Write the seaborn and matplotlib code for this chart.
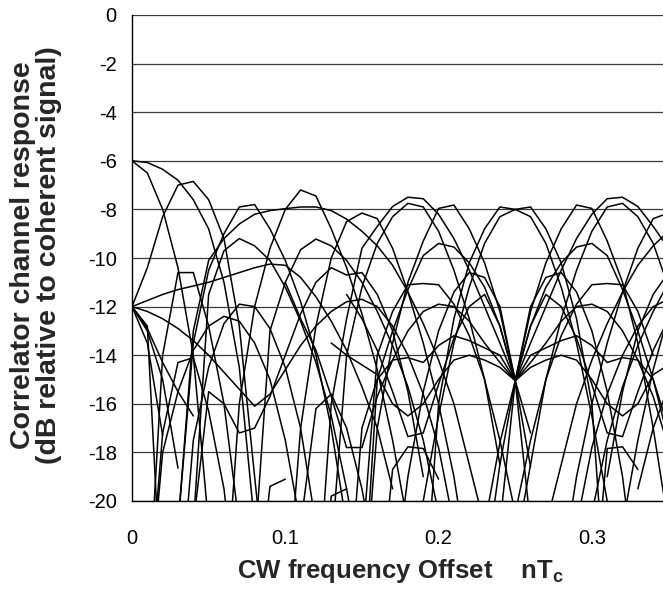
import matplotlib
matplotlib.use("Agg")
import matplotlib.pyplot as plt
import numpy as np
import pandas as pd
import seaborn as sns

N = None
freq = [0.00, 0.01, 0.02, 0.03, 0.04, 0.05, 0.06, 0.07, 0.08, 0.09,
        0.10, 0.11, 0.12, 0.13, 0.14, 0.15, 0.16, 0.17, 0.18, 0.19,
        0.20, 0.21, 0.22, 0.23, 0.24, 0.25, 0.26, 0.27, 0.28, 0.29,
        0.30, 0.31, 0.32, 0.33, 0.34, 0.35]

ch01 = [-6.0, -6.07, -6.35, -6.8, -7.6, -8.8, -11.0, -14.5, -21]
ch02 = [-6.0, -6.5, -8.0, -10.4, -14.0, -21]
ch03 = [-12, -10.4, -8.3, -7.0, -6.85, -7.6, -9.2, -12.8, -19, -25]
ch04 = [-12, -11.75, -11.5, -11.3, -11.15, -11.0, -10.8, -10.6, -10.4, -10.25, -10.3, -10.8, -11.6, -12.6, -13.8, -15.3, -17.0, -19.5]
ch05 = [-12, -12.2, -12.5, -12.9, -13.4, -14.0, -14.7, -15.4, -16.1, -15.6, -14.6, -13.6, -12.8, -12.2, -11.8, -11.7, -12.0, -12.8, -14.0, -15.6, -17.8, -21]
ch06 = [N]*3 + [-21, -13.5, -10.5, -9.0, -7.9, -7.8, -8.8, -10.1, -11.8, -14.0, -17, -21]
ch07 = [N]*3 + [-21, -13.0, -10.1, -9.2, -8.6, -8.2, -8.05, -7.97, -7.9, -7.9, -8.05, -8.4, -8.9, -9.5, -10.3, -11.4, -12.7, -14.2, -16, -18.5, -21]
ch08 = [N]*4 + [-21, -11.5, -9.7, -9.2, -9.5, -10.1, -11.2, -12.6, -14.3, -16.5, -19.5, -23]
ch09 = [N]*6 + [-25, -16, -12, -9.6, -8.0, -7.2, -7.45, -8.8, -10.4, -12.3, -14.6, -17.5, -21]
ch10 = [N]*10 + [-25, -17, -12.8, -10.0, -8.5, -8.15, -8.38, -9.6, -11.4, -13.5, -16, -19, -23]
ch11 = [N]*12 + [-25, -16, -12.5, -9.6, -8.7, -7.88, -7.5, -7.56, -8.2, -9.2, -10.5, -12.0, -13.5, -15.05, -13.5, -12.0, -10.5, -9.2, -8.2, -7.56, -7.5, -7.88, -8.7, -9.6]
ch12 = [N]*15 + [-25, -17, -13.5, -11, -9.3, -7.96, -7.82, -8.8, -10.2, -12.2, -15.05, -12.2, -10.2, -8.8, -7.82, -7.96, -9.3, -11, -13.5, -17, -21]
ch13 = [N]*19 + [-25, -16, -12.5, -10.2, -8.8, -7.9, -8.0, -8.3, -9.4, -11.2, -13.5, -16.5, -20]
ch14 = [N]*19 + [-20, -16.5, -13.5, -11.2, -9.4, -8.3, -8.0, -7.9, -8.8, -10.2, -12.5, -16, -25]
ch15 = [N]*28 + [-23, -19, -16, -13.5, -11.4, -9.6, -8.38, -8.15]
ch16 = [N]*13 + [-22, -14, -11.2, -9.4, -8.3, -7.75, -7.9, -8.9, -10.5, -12.5, -15, -18.5]
ch17 = [N]*25 + [-22, -18.5, -15, -12.5, -10.5, -8.9, -7.9, -7.75, -8.3, -9.4, -11.2]
ch18 = [N]*8 + [-22, -13, -11.0, -9.66, -9.22, -9.5, -10.1, -11.0, -12.2, -13.6, -15.3, -17.5, -20.5]
ch19 = [N]*15 + [-22, -14, -12.2, -11.1, -11.05, -11.1, -11.9, -13.2, -15.0, -17.5, -20.5]
ch20 = [N]*25 + [-20.5, -17.5, -15, -13.2, -11.9, -11.1, -11.05, -11.1, -12.2, -14]
ch21 = [N]*15 + [-25, -15, -13, -11.3, -9.9, -9.4, -9.55, -10.2, -11.2, -12.8, -15.05, -12.8, -11.2, -10.2, -9.55, -9.4, -9.9, -11.3, -13, -15, -17.5]
ch22 = [N]*11 + [-21, -16.2, -15.6, -17.0, -19.5, -23]
ch23 = [N]*10 + [-11.0, -12.5, -13.8, -15.7, -17.8, -17.8, -15.7, -14.2, -13.0, -12.2, -11.9, -12.0, -12.6, -13.5, -14.3, -15.05, -14.3, -13.5, -12.6, -12.0, -11.9, -12.2, -13.0, -14.2, -15.7, -17.8]
ch24 = [N]*13 + [-13.5, -14.0, -14.4, -14.8, -16.0, -16.5, -16.0, -15.0, -14.2, -14.0, -14.2, -14.5, -15.05, -14.5, -14.2, -14.0, -14.2, -15.0, -16.0, -16.5, -16.0, -14.8, -14.4]
ch25 = [N]*14 + [-25, -17, -15.0, -14.2, -14.1, -14.3, -13.6, -13.2, -13.4, -13.7, -14.0, -15.05, -18.6]
ch26 = [N]*23 + [-21, -17.6, -15.05, -14.0, -13.7, -13.4, -13.2, -13.6, -14.3, -14.1, -14.2, -15.0, -17]
ch27 = [N]*14 + [-11.5, -12.5, -13.8, -15.5, -17.35, -17.2, -15.2, -13.3, -12.0, -11.5, -12.8, -15.05, -17.2]
ch28 = [N]*23 + [-23, -18.5, -15.05, -12.8, -11.5, -12.0, -13.3, -15.2, -17.2, -17.35, -15.5, -13.8, -12.5]
ch29 = [N]*16 + [-25, -18.7, -17.77, -17.84, -19.1]
ch30 = [N]*30 + [-25, -17.84, -17.77, -18.7]
ch31 = [-12, -12.9, -14.3, -15.5, -16.5]
ch32 = [-12, -13.0, -15.0, -18.65]
ch33 = [-12, -13.5, -17.3]
ch34 = [-12, -12.8, -25]
ch35 = [N]*1 + [-25, -14, -10.6, -10.6, -12.8, -16, -21]
ch36 = [N]*1 + [-25, -17.2, -14.3, -14.1, -16.3, -19.5, -25]
ch37 = [N]*8 + [-25, -19.4, -19.1]
ch38 = [N]*12 + [-25, -19.8, -19.5]
ch39 = [N]*4 + [-21, -15.5, -16.0, -17.2, -17.0, -15.7, -14.0, -12.3, -11.0, -10.4, -10.7, -10.6, -11.5, -13.0, -15.5, -19]
ch40 = [N]*1 + [-25, -18, -15.5, -13.8, -12.8, -12.4, -12.6, -13.5, -15.0, -17.5, -21]
ch41 = [N]*3 + [-25, -17.5, -14.5, -12.7, -11.9, -12.0, -12.9, -14.5, -17, -21]
ch43 = [N]*23 + [-30, -21, -15.05, -12.0, -10.8, -10.6, -11.4, -13, -15.5, -19, -24]
ch44 = [N]*17 + [-24, -19, -15.5, -13, -11.4, -10.6, -10.8, -12.0, -15.05, -21, -30]
ch45 = [N]*27 + [-21, -18.5, -16, -14.2, -12.7, -11.4, -10.3, -9.5, -8.9]
ch46 = [N]*29 + [-21, -17.8, -15.6, -14.0, -12.8, -12.0, -11.7]
ch47 = [N]*32 + [-21, -17.5, -14.6, -12.3]
ch48 = [N]*30 + [-20.5, -17.5, -15.3, -13.6, -12.2, -11.0]
ch49 = [N]*33 + [-19.5, -17, -15.3]
ch50 = [N]*31 + [-19, -15.5, -13, -11.5, -10.6]

channels = {
    "ch01": ch01, "ch02": ch02, "ch03": ch03, "ch04": ch04, "ch05": ch05,
    "ch06": ch06, "ch07": ch07, "ch08": ch08, "ch09": ch09, "ch10": ch10,
    "ch11": ch11, "ch12": ch12, "ch13": ch13, "ch14": ch14, "ch15": ch15,
    "ch16": ch16, "ch17": ch17, "ch18": ch18, "ch19": ch19, "ch20": ch20,
    "ch21": ch21, "ch22": ch22, "ch23": ch23, "ch24": ch24, "ch25": ch25,
    "ch26": ch26, "ch27": ch27, "ch28": ch28, "ch29": ch29, "ch30": ch30,
    "ch31": ch31, "ch32": ch32, "ch33": ch33, "ch34": ch34, "ch35": ch35,
    "ch36": ch36, "ch37": ch37, "ch38": ch38, "ch39": ch39, "ch40": ch40,
    "ch41": ch41, "ch43": ch43, "ch44": ch44, "ch45": ch45, "ch46": ch46,
    "ch47": ch47, "ch48": ch48, "ch49": ch49, "ch50": ch50,
}

rows = []
for name, vals in channels.items():
    for f, v in zip(freq, vals):
        if v is not None:
            rows.append((name, f, v))
df = pd.DataFrame(rows, columns=["ch", "f", "dB"])

yticks = [0, -2, -4, -6, -8, -10, -12, -14, -16, -18, -20]
ytick_labels = ["0", "-2", "-4", "-6", "-8", "-10", "-12", "-14", "-16", "-18", "-20"]
xticks = [0.0, 0.1, 0.2, 0.3]
xtick_labels = ["0", "0.1", "0.2", "0.3"]

sns.set_style("white")
plt.rcParams["font.family"] = ["Liberation Sans", "DejaVu Sans"]
plt.rcParams["axes.unicode_minus"] = False
plt.rcParams["mathtext.fontset"] = "custom"
plt.rcParams["mathtext.rm"] = "Liberation Sans:bold"
plt.rcParams["mathtext.bf"] = "Liberation Sans:bold"

fig = plt.figure(figsize=(6.63, 5.97), dpi=100)
ax = fig.add_axes([132/663, 96/597, 531/663, 486/597])

sns.lineplot(data=df, x="f", y="dB", units="ch", estimator=None,
             color="black", linewidth=1.1, legend=False, ax=ax, sort=True)

ax.set_xlim(0, 0.3464)
ax.set_ylim(-20, 0)
ax.set_yticks(yticks)
ax.set_yticklabels(ytick_labels)
ax.set_xticks(xticks)
ax.set_xticklabels(xtick_labels)
ax.yaxis.grid(True, color="#3a3a3a", linewidth=0.9)
ax.xaxis.grid(False)
ax.set_axisbelow(True)
for s in ["top", "right"]:
    ax.spines[s].set_visible(False)
for s in ["left", "bottom"]:
    ax.spines[s].set_color("black")
    ax.spines[s].set_linewidth(1.0)
ax.tick_params(axis="both", direction="out", length=5, width=1, color="black",
               labelsize=14.5, labelcolor="black")
ax.tick_params(axis="x", pad=15)
ax.tick_params(axis="y", pad=6)
ax.set_xlabel("")
ax.set_ylabel("")

fig.text(400/663, 1 - 571/597, r"CW frequency Offset    nT$_\mathbf{c}$",
         ha="center", va="center", fontsize=18.5, fontweight="bold")
fig.text(36/663, 1 - 255/597, "Correlator channel response\n(dB relative to coherent signal)",
         rotation=90, ha="center", va="center", fontsize=20.5, fontweight="bold",
         linespacing=1.0, multialignment="center")

fig.savefig("out.png", dpi=100)
